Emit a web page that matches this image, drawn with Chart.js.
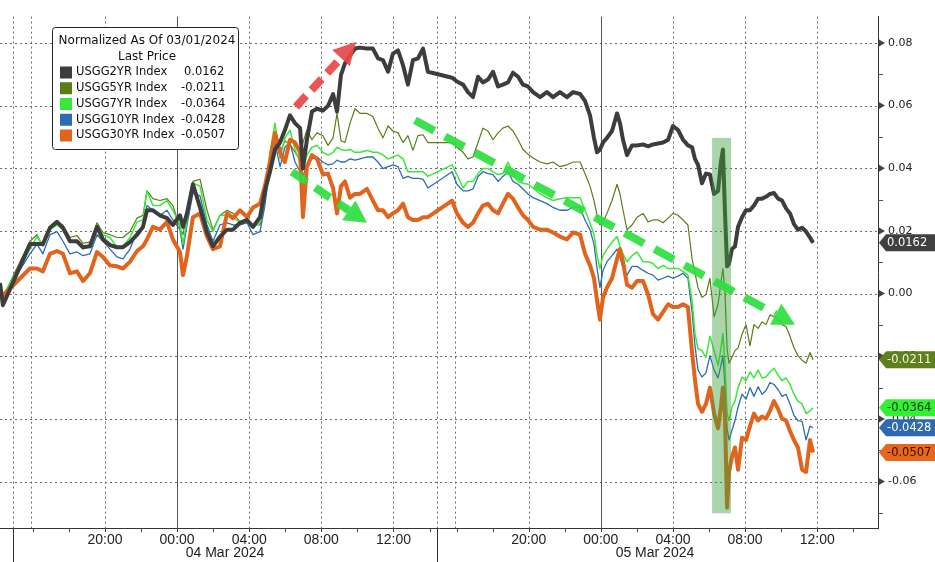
<!DOCTYPE html>
<html><head><meta charset="utf-8">
<script src="https://cdn.jsdelivr.net/npm/chart.js@4.4.1/dist/chart.umd.min.js"></script>
<style>html,body{margin:0;padding:0;background:#fff;}#wrap{position:relative;width:935px;height:562px;}</style>
</head><body><div id="wrap"><canvas id="c" width="935" height="562"></canvas></div>
<script>
// ---- time axis (session hours) ----
const times = [0.18,0.34,1.84,2.23,2.56,2.95,3.34,3.67,4.06,4.45,
4.78,5.17,5.56,5.89,6.28,6.67,7.00,7.39,7.78,8.11,
8.33,8.66,9.05,9.44,9.77,10.16,10.33,10.55,10.88,11.27,
11.66,11.99,12.38,12.77,13.10,13.49,13.88,14.21,14.60,14.87,
15.15,15.43,15.71,15.98,16.26,16.54,16.82,16.98,17.20,17.48,
17.76,18.09,18.37,18.65,18.87,19.09,19.31,19.59,19.87,20.14,
20.53,20.86,21.14,21.42,21.70,21.97,22.25,22.53,22.80,23.08,
23.36,23.64,23.91,25.25,25.52,25.86,26.13,26.41,26.69,26.96,
27.24,27.52,27.80,28.07,28.35,28.63,28.91,29.18,29.46,29.74,
30.13,30.51,30.85,31.23,31.62,31.96,32.35,32.62,32.90,33.12,
33.29,33.45,33.62,33.84,34.12,34.40,34.56,34.73,34.95,35.23,
35.51,35.84,36.12,36.39,36.67,36.95,37.23,37.50,37.78,38.06,
38.33,38.56,38.72,38.89,39.11,39.33,39.55,39.78,40.00,40.16,
40.27,40.38,40.50,40.61,40.77,40.94,41.11,41.33,41.55,41.77,
41.99,42.22,42.44,42.66,42.88,43.10,43.33,43.55,43.77,43.99,
44.21,44.43,44.66,44.88,45.10,45.27];

const usgg2yr = [0.0034,-0.0037,0.0158,0.0158,0.0158,0.0210,0.0229,0.0210,0.0167,0.0167,
0.0148,0.0151,0.0213,0.0173,0.0155,0.0148,0.0148,0.0164,0.0188,0.0213,
0.0266,0.0266,0.0250,0.0241,0.0219,0.0250,0.0213,0.0256,0.0349,0.0275,
0.0195,0.0151,0.0182,0.0204,0.0204,0.0226,0.0235,0.0213,0.0244,0.0328,
0.0389,0.0460,0.0482,0.0522,0.0569,0.0544,0.0528,0.0399,0.0491,0.0581,
0.0590,0.0584,0.0599,0.0637,0.0581,0.0698,0.0735,0.0760,0.0782,0.0785,
0.0782,0.0782,0.0751,0.0745,0.0708,0.0766,0.0776,0.0729,0.0667,0.0745,
0.0751,0.0782,0.0708,0.0689,0.0677,0.0667,0.0643,0.0627,0.0692,0.0674,
0.0683,0.0708,0.0661,0.0667,0.0674,0.0705,0.0692,0.0667,0.0661,0.0643,
0.0627,0.0643,0.0627,0.0643,0.0627,0.0643,0.0637,0.0615,0.0569,0.0497,
0.0451,0.0460,0.0482,0.0497,0.0519,0.0575,0.0544,0.0491,0.0442,0.0473,
0.0473,0.0476,0.0470,0.0476,0.0479,0.0482,0.0491,0.0535,0.0522,0.0491,
0.0473,0.0467,0.0430,0.0411,0.0352,0.0383,0.0380,0.0318,0.0328,0.0420,
0.0460,0.0266,0.0087,0.0096,0.0142,0.0151,0.0213,0.0244,0.0266,0.0266,
0.0281,0.0303,0.0303,0.0309,0.0318,0.0321,0.0303,0.0297,0.0272,0.0256,
0.0222,0.0204,0.0210,0.0198,0.0179,0.0162];

const usgg5yr = [0.0019,-0.0012,0.0167,0.0188,0.0151,0.0204,0.0229,0.0219,0.0179,0.0185,
0.0161,0.0164,0.0226,0.0195,0.0188,0.0179,0.0179,0.0198,0.0241,0.0250,
0.0328,0.0303,0.0297,0.0303,0.0281,0.0210,0.0188,0.0266,0.0358,0.0365,
0.0266,0.0204,0.0250,0.0266,0.0256,0.0229,0.0235,0.0219,0.0219,0.0297,
0.0420,0.0497,0.0451,0.0488,0.0476,0.0451,0.0426,0.0482,0.0522,0.0491,
0.0513,0.0504,0.0473,0.0497,0.0575,0.0488,0.0482,0.0544,0.0590,0.0575,
0.0575,0.0565,0.0528,0.0497,0.0535,0.0519,0.0513,0.0482,0.0504,0.0457,
0.0504,0.0507,0.0482,0.0482,0.0467,0.0451,0.0430,0.0436,0.0482,0.0528,
0.0519,0.0491,0.0513,0.0528,0.0535,0.0519,0.0491,0.0460,0.0445,0.0433,
0.0420,0.0414,0.0420,0.0405,0.0411,0.0420,0.0420,0.0383,0.0343,0.0297,
0.0250,0.0219,0.0229,0.0256,0.0297,0.0349,0.0318,0.0266,0.0204,0.0219,
0.0244,0.0256,0.0229,0.0235,0.0235,0.0226,0.0241,0.0256,0.0250,0.0235,
0.0219,0.0111,0.0065,0.0019,-0.0012,-0.0003,0.0049,-0.0074,-0.0034,0.0034,
0.0080,0.0009,-0.0176,-0.0222,-0.0204,-0.0182,-0.0173,-0.0130,-0.0099,-0.0167,
-0.0099,-0.0111,-0.0090,-0.0099,-0.0068,-0.0074,-0.0080,-0.0099,-0.0105,-0.0136,
-0.0173,-0.0198,-0.0213,-0.0222,-0.0188,-0.0211];

const usgg7yr = [0.0012,-0.0006,0.0142,0.0182,0.0155,0.0204,0.0219,0.0204,0.0167,0.0167,
0.0142,0.0158,0.0219,0.0188,0.0179,0.0148,0.0151,0.0179,0.0229,0.0235,
0.0328,0.0281,0.0281,0.0297,0.0266,0.0219,0.0158,0.0235,0.0352,0.0343,
0.0235,0.0198,0.0250,0.0250,0.0241,0.0229,0.0235,0.0210,0.0229,0.0312,
0.0451,0.0544,0.0430,0.0497,0.0522,0.0460,0.0420,0.0399,0.0442,0.0467,
0.0473,0.0451,0.0442,0.0451,0.0467,0.0460,0.0457,0.0460,0.0451,0.0451,
0.0457,0.0451,0.0451,0.0442,0.0430,0.0436,0.0442,0.0430,0.0389,0.0389,
0.0389,0.0389,0.0374,0.0411,0.0380,0.0337,0.0358,0.0358,0.0383,0.0399,
0.0399,0.0389,0.0380,0.0383,0.0420,0.0380,0.0358,0.0352,0.0349,0.0337,
0.0318,0.0306,0.0297,0.0303,0.0306,0.0306,0.0306,0.0266,0.0226,0.0188,
0.0121,0.0080,0.0121,0.0142,0.0164,0.0182,0.0151,0.0127,0.0102,0.0121,
0.0133,0.0102,0.0102,0.0096,0.0080,0.0090,0.0080,0.0080,0.0080,0.0071,
0.0059,-0.0022,-0.0127,-0.0176,-0.0182,-0.0204,-0.0136,-0.0182,-0.0229,-0.0176,
-0.0127,-0.0229,-0.0383,-0.0405,-0.0362,-0.0343,-0.0300,-0.0266,-0.0278,-0.0250,
-0.0269,-0.0244,-0.0269,-0.0266,-0.0250,-0.0238,-0.0260,-0.0278,-0.0269,-0.0290,
-0.0321,-0.0343,-0.0352,-0.0383,-0.0374,-0.0364];

const usgg10yr = [0.0009,-0.0012,0.0127,0.0158,0.0127,0.0188,0.0198,0.0167,0.0127,0.0133,
0.0121,0.0127,0.0188,0.0167,0.0142,0.0117,0.0111,0.0142,0.0198,0.0210,
0.0281,0.0266,0.0250,0.0266,0.0235,0.0204,0.0142,0.0219,0.0321,0.0312,
0.0219,0.0167,0.0219,0.0226,0.0219,0.0219,0.0226,0.0188,0.0198,0.0281,
0.0405,0.0482,0.0405,0.0467,0.0482,0.0420,0.0389,0.0374,0.0411,0.0430,
0.0436,0.0420,0.0411,0.0414,0.0426,0.0420,0.0420,0.0430,0.0426,0.0430,
0.0436,0.0436,0.0420,0.0399,0.0405,0.0411,0.0405,0.0368,0.0374,0.0368,
0.0368,0.0365,0.0337,0.0389,0.0349,0.0328,0.0328,0.0334,0.0374,0.0389,
0.0383,0.0380,0.0358,0.0374,0.0389,0.0358,0.0349,0.0334,0.0318,0.0306,
0.0297,0.0287,0.0275,0.0266,0.0266,0.0275,0.0275,0.0235,0.0204,0.0158,
0.0080,0.0019,0.0074,0.0102,0.0121,0.0142,0.0117,0.0080,0.0059,0.0087,
0.0087,0.0074,0.0065,0.0059,0.0043,0.0049,0.0056,0.0049,0.0056,0.0065,
0.0049,-0.0059,-0.0167,-0.0244,-0.0266,-0.0253,-0.0198,-0.0244,-0.0269,-0.0229,
-0.0198,-0.0290,-0.0430,-0.0467,-0.0436,-0.0405,-0.0362,-0.0321,-0.0337,-0.0300,
-0.0328,-0.0297,-0.0321,-0.0309,-0.0284,-0.0290,-0.0306,-0.0328,-0.0321,-0.0352,
-0.0389,-0.0405,-0.0408,-0.0467,-0.0423,-0.0428];

const usgg30yr = [0.0009,-0.0006,0.0080,0.0080,0.0071,0.0127,0.0136,0.0127,0.0065,0.0071,
0.0040,0.0065,0.0133,0.0117,0.0090,0.0087,0.0080,0.0102,0.0136,0.0151,
0.0173,0.0213,0.0204,0.0229,0.0173,0.0133,0.0059,0.0121,0.0244,0.0256,
0.0182,0.0142,0.0151,0.0256,0.0241,0.0266,0.0244,0.0275,0.0287,0.0343,
0.0420,0.0513,0.0451,0.0420,0.0491,0.0482,0.0451,0.0244,0.0405,0.0442,
0.0430,0.0380,0.0383,0.0337,0.0256,0.0343,0.0358,0.0306,0.0318,0.0318,
0.0334,0.0297,0.0266,0.0266,0.0244,0.0256,0.0266,0.0287,0.0244,0.0235,
0.0235,0.0244,0.0244,0.0297,0.0256,0.0226,0.0213,0.0226,0.0256,0.0281,
0.0287,0.0266,0.0256,0.0287,0.0318,0.0303,0.0275,0.0250,0.0235,0.0213,
0.0204,0.0204,0.0195,0.0182,0.0173,0.0195,0.0188,0.0127,0.0090,0.0049,
-0.0022,-0.0083,-0.0012,0.0019,0.0049,0.0111,0.0142,0.0102,0.0028,0.0019,
0.0040,0.0040,-0.0003,-0.0065,-0.0083,-0.0059,-0.0034,-0.0043,-0.0043,-0.0034,
-0.0043,-0.0188,-0.0275,-0.0352,-0.0377,-0.0352,-0.0300,-0.0383,-0.0430,-0.0362,
-0.0300,-0.0383,-0.0683,-0.0569,-0.0522,-0.0491,-0.0562,-0.0460,-0.0467,-0.0423,
-0.0383,-0.0405,-0.0392,-0.0399,-0.0374,-0.0343,-0.0368,-0.0399,-0.0405,-0.0439,
-0.0467,-0.0491,-0.0562,-0.0569,-0.0467,-0.0507];

const seriesNames = ['USGG2YR Index','USGG5YR Index','USGG7YR Index','USGG10YR Index','USGG30YR Index'];
const lastPrices = ['0.0162','-0.0211','-0.0364','-0.0428','-0.0507'];
const lastValues = [0.0162,-0.0211,-0.0364,-0.0428,-0.0507];

const xTickPos = [6,10,14,18,22,29.5,33.5,37.5,41.5,45.5];
const xTickLabels = ['20:00','00:00','04:00','08:00','12:00','20:00','00:00','04:00','08:00','12:00'];
const midnightTicks = [10,33.5];
const dateLabels = ['04 Mar 2024','05 Mar 2024'];
const datePos = [12.66,36.5];
const dayBoundaries = [0.9,24.41];
const sessionLines = [1.9,25.4];
const yTicks = [-0.06,-0.04,-0.02,0,0.02,0.04,0.06,0.08];

// styles
const colors = ['#3d3d3d','#5b7d16','#3ae83a','#2c6cb4','#e2641c'];
const widths = [4,1.2,1.5,1.3,4];
const orders = [0,4,2,3,1];
const tagBg = ['#404040','#5d7f1c','#33f033','#2f6aae','#e8671c'];
const tagFg = ['#ffffff','#f4f4e4','#123a12','#ffffff','#2a1000'];

const arrows = [
  {from:[16.59,0.0596], to:[19.92,0.0803], color:'rgba(232,70,72,0.92)', dash:[15,8]},
  {from:[16.37,0.0389], to:[20.53,0.0226], color:'rgba(45,222,62,0.92)', dash:[18,10]},
  {from:[23.19,0.0553], to:[44.27,-0.0099], color:'rgba(45,222,62,0.92)', dash:[22,12]}
];
const highlight = {x0:39.67, x1:40.72, y0:0.0497, y1:-0.0701};

const allSeries = [usgg2yr, usgg5yr, usgg7yr, usgg10yr, usgg30yr];

function arrow(ctx, x1,y1,x2,y2,color,dash){
  const L=22, W=12;
  const dx=x2-x1, dy=y2-y1, len=Math.hypot(dx,dy), ux=dx/len, uy=dy/len;
  const bx=x2-ux*L, by=y2-uy*L;
  ctx.save();
  ctx.strokeStyle=color; ctx.lineWidth=8; ctx.setLineDash(dash); ctx.lineCap='butt';
  ctx.beginPath(); ctx.moveTo(x1,y1); ctx.lineTo(bx,by); ctx.stroke();
  ctx.setLineDash([]); ctx.fillStyle=color;
  ctx.beginPath(); ctx.moveTo(x2,y2); ctx.lineTo(bx-uy*W,by+ux*W); ctx.lineTo(bx+uy*W,by-ux*W); ctx.closePath(); ctx.fill();
  ctx.restore();
}

const deco = {
  id:'deco',
  beforeDatasetsDraw(chart){
    const {ctx, chartArea:a, scales:{x,y}} = chart;
    ctx.save();
    ctx.lineWidth=1; ctx.strokeStyle='#6a6a6a'; ctx.setLineDash([2,3]);
    yTicks.forEach(v=>{ const py=Math.round(y.getPixelForValue(v))+0.5; ctx.beginPath(); ctx.moveTo(a.left,py); ctx.lineTo(a.right,py); ctx.stroke(); });
    const dotted = xTickPos.filter(v=>!midnightTicks.includes(v)).concat(dayBoundaries, sessionLines);
    dotted.forEach(v=>{ const px=Math.round(x.getPixelForValue(v))+0.5; ctx.beginPath(); ctx.moveTo(px,a.top); ctx.lineTo(px,a.bottom); ctx.stroke(); });
    ctx.setLineDash([]); ctx.strokeStyle='#555';
    midnightTicks.forEach(v=>{ const px=Math.round(x.getPixelForValue(v))+0.5; ctx.beginPath(); ctx.moveTo(px,a.top); ctx.lineTo(px,a.bottom); ctx.stroke(); });
    ctx.restore();
  },
  afterDatasetsDraw(chart){
    const {ctx, scales:{x,y}} = chart;
    ctx.save();
    const hx0=x.getPixelForValue(highlight.x0), hx1=x.getPixelForValue(highlight.x1);
    const hy0=y.getPixelForValue(highlight.y0), hy1=y.getPixelForValue(highlight.y1);
    ctx.fillStyle='rgba(60,160,60,0.44)';
    ctx.fillRect(hx0,hy0,hx1-hx0,hy1-hy0);
    ctx.restore();
    arrows.forEach(r=>arrow(ctx, x.getPixelForValue(r.from[0]), y.getPixelForValue(r.from[1]), x.getPixelForValue(r.to[0]), y.getPixelForValue(r.to[1]), r.color, r.dash));
  },
  afterDraw(chart){
    const {ctx, chartArea:a, scales:{x,y}} = chart;
    ctx.save();
    // y axis markers
    ctx.fillStyle='#444'; ctx.strokeStyle='#555'; ctx.lineWidth=1;
    yTicks.forEach(v=>{ const py=y.getPixelForValue(v); ctx.beginPath(); ctx.moveTo(a.right+1,py-3.5); ctx.lineTo(a.right+7,py); ctx.lineTo(a.right+1,py+3.5); ctx.closePath(); ctx.fill(); });
    yTicks.concat([-0.08]).forEach(v=>{ const m=v+0.01; if(m<y.min||m>y.max) return; const py=Math.round(y.getPixelForValue(m))+0.5; ctx.beginPath(); ctx.moveTo(a.right,py); ctx.lineTo(a.right+5,py); ctx.stroke(); });
    // x axis small ticks
    ctx.strokeStyle='#444';
    for(let t=2;t<=24;t+=2){ const px=Math.round(x.getPixelForValue(t))+0.5; ctx.beginPath(); ctx.moveTo(px,a.bottom); ctx.lineTo(px,a.bottom+4); ctx.stroke(); }
    for(let t=25.5;t<=48;t+=2){ const px=Math.round(x.getPixelForValue(t))+0.5; ctx.beginPath(); ctx.moveTo(px,a.bottom); ctx.lineTo(px,a.bottom+4); ctx.stroke(); }
    // day boundary lines under axis
    ctx.strokeStyle='#333';
    dayBoundaries.forEach(v=>{ const px=Math.round(x.getPixelForValue(v))+0.5; ctx.beginPath(); ctx.moveTo(px,a.bottom); ctx.lineTo(px,chart.height); ctx.stroke(); });
    // date labels
    ctx.fillStyle='#222'; ctx.font="14px 'Liberation Sans Narrow','Liberation Sans',sans-serif"; ctx.textAlign='center'; ctx.textBaseline='middle';
    dateLabels.forEach((d,i)=>ctx.fillText(d, x.getPixelForValue(datePos[i]), 553));
    // value tags
    ctx.font="11.5px 'DejaVu Sans'"; ctx.textAlign='left';
    lastValues.forEach((v,i)=>{
      const py=y.getPixelForValue(v), h=17, x0=a.right+1;
      ctx.fillStyle=tagBg[i];
      ctx.beginPath(); ctx.moveTo(x0,py); ctx.lineTo(x0+7,py-h/2); ctx.lineTo(chart.width,py-h/2); ctx.lineTo(chart.width,py+h/2); ctx.lineTo(x0+7,py+h/2); ctx.closePath(); ctx.fill();
      ctx.fillStyle=tagFg[i]; ctx.fillText(lastPrices[i], x0+8, py+0.5);
    });
    // legend
    const lx=52, ly=27, lw=186, lh=122;
    ctx.fillStyle='#fff'; ctx.strokeStyle='#222'; ctx.lineWidth=1;
    ctx.beginPath(); ctx.roundRect(lx+0.5,ly+0.5,lw,lh,3); ctx.fill(); ctx.stroke();
    ctx.fillStyle='#111'; ctx.textAlign='center'; ctx.font="12px 'DejaVu Sans'";
    ctx.fillText('Normalized As Of 03/01/2024', 147, 41);
    ctx.fillText('Last Price', 147, 57);
    ctx.font="11.5px 'DejaVu Sans'";
    seriesNames.forEach((n,i)=>{
      const ry=72.5+i*15.75;
      ctx.fillStyle=colors[i]; ctx.fillRect(60,ry-6,12,12);
      ctx.fillStyle='#111'; ctx.textAlign='left';
      ctx.fillText(n, 76, ry);
      ctx.fillText(lastPrices[i], lastPrices[i][0]==='-'?181:184, ry);
    });
    ctx.restore();
  }
};

new Chart(document.getElementById('c'), {
  type:'line',
  data:{ datasets: allSeries.map((s,i)=>({
    label: seriesNames[i],
    data: times.map((t,k)=>({x:t, y:s[k]})),
    borderColor: colors[i], backgroundColor: colors[i], borderWidth: widths[i],
    pointRadius:0, tension:0, fill:false, order: orders[i], borderJoinStyle:'round'
  }))},
  options:{
    responsive:false, animation:false,
    layout:{padding:0},
    plugins:{legend:{display:false}, tooltip:{enabled:false}},
    scales:{
      x:{type:'linear', min:0.18, max:48.87,
        afterBuildTicks:s=>{ s.ticks = xTickPos.map(v=>({value:v})); },
        afterFit:s=>{ s.height = 34; },
        ticks:{autoSkip:false, maxRotation:0, padding:4, color:'#222',
          font:{family:"'Liberation Sans Narrow','Liberation Sans',sans-serif", size:14},
          callback:(v,i)=>xTickLabels[i]},
        grid:{display:false, drawTicks:false},
        border:{display:true, color:'#333', width:1}},
      y:{type:'linear', position:'right', min:-0.0748, max:0.0884,
        afterBuildTicks:s=>{ s.ticks = yTicks.map(v=>({value:v})); },
        afterFit:s=>{ s.width = 57; },
        ticks:{padding:10, color:'#222', font:{family:'DejaVu Sans', size:11}, callback:v=>v.toFixed(2)},
        grid:{display:false, drawTicks:false},
        border:{display:true, color:'#333', width:1}}
    }
  },
  plugins:[deco]
});
</script></body></html>
